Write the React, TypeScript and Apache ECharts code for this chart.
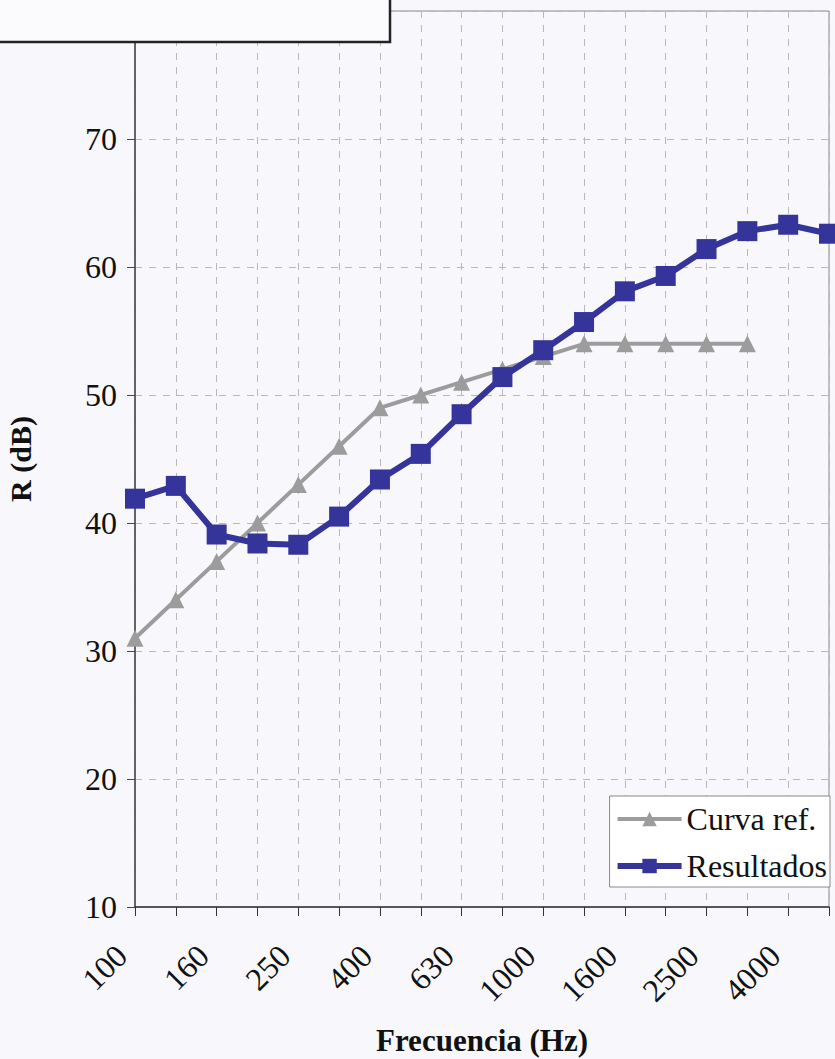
import React, { useEffect, useRef } from "react";
import * as echarts from "echarts";

const frequencies = ["100", "125", "160", "200", "250", "315", "400", "500", "630", "800", "1000", "1250", "1600", "2000", "2500", "3150", "4000", "5000"];
const curvaRef = [31, 34, 37, 40, 43, 46, 49, 50, 51, 52, 53, 54, 54, 54, 54, 54, null, null];
const resultados = [41.9, 42.9, 39.1, 38.4, 38.3, 40.5, 43.4, 45.4, 48.5, 51.4, 53.5, 55.7, 58.1, 59.3, 61.4, 62.8, 63.3, 62.6];
const yTicks = { min: 10, max: 80, interval: 10 };

const SERIF = "'Liberation Serif', 'Times New Roman', serif";
const GRAY = "#9c9c9c";
const BLUE = "#34349a";

export default function App() {
  const ref = useRef<HTMLDivElement>(null);
  useEffect(() => {
    if (!ref.current) return;
    const chart = echarts.init(ref.current, undefined, { renderer: "svg" });
    chart.setOption({
      animation: false,
      backgroundColor: "#f8f8fc",
      grid: {
        left: 135,
        right: 6,
        top: 11,
        bottom: 152,
        show: true,
        borderColor: "#8a8a8a",
        borderWidth: 1,
        containLabel: false,
        outerBoundsMode: "none",
      },
      xAxis: {
        type: "category",
        data: frequencies,
        boundaryGap: false,
        name: "Frecuencia (Hz)",
        nameLocation: "middle",
        nameGap: 118,
        nameTextStyle: { fontFamily: SERIF, fontSize: 31, fontWeight: "bold", color: "#111" },
        axisLine: { show: true, lineStyle: { color: "#333", width: 1.5 } },
        axisTick: { show: true, interval: 0, length: 9, lineStyle: { color: "#333" } },
        axisLabel: {
          interval: 1,
          rotate: 45,
          margin: 30,
          padding: [0, 19, 0, 0],
          fontFamily: SERIF,
          fontSize: 32,
          color: "#111",
        },
        splitLine: { show: true, interval: 0, lineStyle: { color: "#b8b8b8", type: [7, 7], width: 1 } },
      },
      yAxis: {
        type: "value",
        min: yTicks.min,
        max: yTicks.max,
        interval: yTicks.interval,
        name: "R (dB)",
        nameLocation: "middle",
        nameGap: 100,
        nameTextStyle: { fontFamily: SERIF, fontSize: 30, fontWeight: "bold", color: "#111" },
        axisLine: { show: true, lineStyle: { color: "#444", width: 1.5 } },
        axisTick: { show: true, length: 8, lineStyle: { color: "#444" } },
        axisLabel: { margin: 18, fontFamily: SERIF, fontSize: 32, color: "#111", showMaxLabel: false },
        splitLine: { show: true, lineStyle: { color: "#b8b8b8", type: [7, 7], width: 1 } },
      },
      legend: {
        orient: "vertical",
        right: 5,
        bottom: 172,
        align: "left",
        itemWidth: 64,
        itemHeight: 18,
        itemGap: 15,
        padding: [7, 3, 5, 5],
        backgroundColor: "#ffffff",
        borderColor: "#888",
        borderWidth: 1,
        borderRadius: 0,
        textStyle: { fontFamily: SERIF, fontSize: 32, color: "#111" },
        data: [
          { name: "Curva ref.", lineStyle: { width: 4, color: GRAY } },
          { name: "Resultados", lineStyle: { width: 6, color: BLUE } },
        ],
      },
      series: [
        {
          name: "Curva ref.",
          type: "line",
          data: curvaRef,
          symbol: "triangle",
          symbolSize: 17,
          lineStyle: { color: GRAY, width: 4 },
          itemStyle: { color: GRAY },
          z: 2,
        },
        {
          name: "Resultados",
          type: "line",
          data: resultados,
          symbol: "rect",
          symbolSize: 20,
          lineStyle: { color: BLUE, width: 6 },
          itemStyle: { color: BLUE },
          z: 3,
        },
      ],
      graphic: [
        {
          type: "rect",
          z: 100,
          shape: { x: -4, y: -4, width: 394, height: 46 },
          style: { fill: "#fbfbfe", stroke: "#222", lineWidth: 2.5 },
        },
      ],
    });
    return () => chart.dispose();
  }, []);
  return (
    <div
      ref={ref}
      style={{ position: "fixed", left: 0, top: 0, width: 835, height: 1059 }}
    />
  );
}
